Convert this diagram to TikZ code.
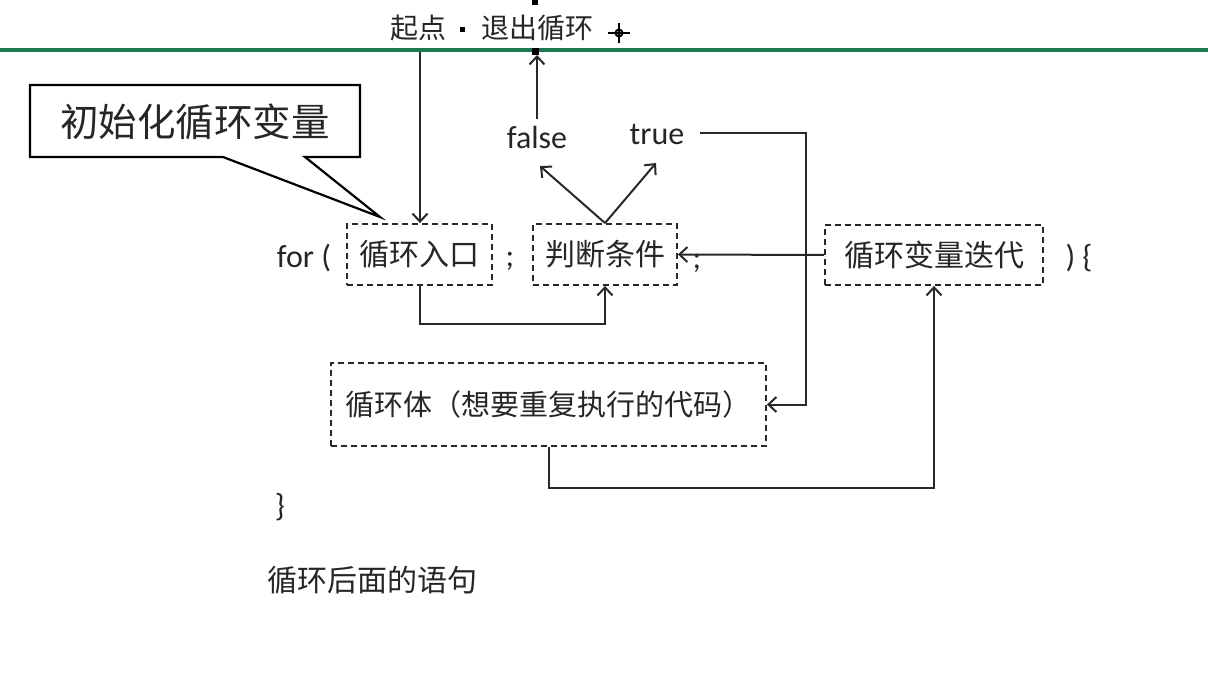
\documentclass[tikz,border=0pt]{standalone}
\usepackage{fontspec}
\setmainfont{Noto Sans CJK SC}
\newfontfamily\lat{Carlito}
\usetikzlibrary{arrows.meta,calc}
\definecolor{lineg}{RGB}{40,40,40}
\definecolor{topgreen}{RGB}{30,122,82}
\begin{document}
\begin{tikzpicture}[x=1pt,y=-1pt,
  cn/.style={font=\fontsize{30}{34}\selectfont, text=black!85, inner sep=0pt},
  topn/.style={font=\fontsize{28}{32}\selectfont, text=black!85, inner sep=0pt},
  ln/.style={font=\lat\fontsize{32}{36}\selectfont, text=black!85, inner sep=0pt},
  dbox/.style={draw=lineg, line width=1.9pt, dash pattern=on 6pt off 4pt, inner sep=0pt, font=\fontsize{30}{34}\selectfont, text=black!85},
  arr/.style={draw=lineg, line width=2pt, -{Straight Barb[length=8pt,width=15pt,line width=2pt]}}]
\useasboundingbox[fill=white] (0,0) rectangle (1208,676);
% top green rule
\draw[topgreen, line width=3.5pt] (0,50) -- (1208,50);
% top label
\node[topn] (qd) at (418,28) {起点};
\node[topn] (tc) at (537,28) {退出循环};
\node[fill=black, minimum size=5pt, inner sep=0pt] (dot) at (462,30) {};
\node[fill=black, minimum size=6pt, inner sep=0pt] (hdl1) at (535,2) {};
\node[fill=black, minimum size=7pt, inner sep=0pt] (hdl2) at (535,52) {};
% cursor glyph
\node[draw=black, circle, line width=2pt, minimum size=7pt, inner sep=0pt] (cur) at (619,33) {};
\draw[line width=2.6pt] (608,33) -- (630,33) (619,23) -- (619,43);
% callout
\coordinate (tip) at (380,217);
\draw[line width=2.2pt, fill=white] (30,85) -- (360,85) -- (360,157) -- (305,157) -- (tip) -- (223,157) -- (30,157) -- cycle;
\node[font=\fontsize{38.5}{44}\selectfont, text=black!85, inner sep=0pt] (callout) at (195,122) {初始化循环变量};
% row of boxes
\node[ln] (for) at (304,258) {for (};
\node[dbox, minimum width=145pt, minimum height=61pt] (entry) at (419.5,254.5) {循环入口};
\node[ln] (semi1) at (510,261) {;};
\node[dbox, minimum width=144pt, minimum height=61pt] (cond) at (605,254.5) {判断条件};
\node[ln] (semi2) at (697,263) {;};
\node[dbox, minimum width=218pt, minimum height=60pt] (iter) at (934,255) {循环变量迭代\hspace{8pt}};
\node[ln] (close) at (1079,258) {) \{};
\node[dbox, font=\fontsize{29}{33}\selectfont, minimum width=435pt, minimum height=83pt] (body) at (548.5,404.5) {循环体（想要重复执行的代码）};
\node[ln] (rbrace) at (280,507) {\}};
\node[cn] (after) at (372,580) {循环后面的语句};
% false / true
\node[ln] (false) at (537,138) {false};
\node[ln] (true) at (657,135) {true};
\coordinate (ftip) at (540,166);
\coordinate (ttip) at (656,163);
\coordinate (exit) at (537,55);
\coordinate (s1) at (420,52);
\coordinate (t1) at (700,133);
% connectors
\draw[arr] (s1) -- (s1 |- entry.north);
\draw[arr] (false.north) ++(0,-8) -- (exit);
\draw[arr] (cond.north) -- (ftip);
\draw[arr] (cond.north) -- (ttip);
\draw[arr] (t1) -| ($(body.east)+(39,0)$) -- (body.east);
\draw[arr] (entry.south) -- ++(0,38) -| (cond.south);
\draw[arr] (iter.west) -- (cond.east);
\draw[arr] (body.south) -- ++(0,41) -| (iter.south);
\end{tikzpicture}
\end{document}
